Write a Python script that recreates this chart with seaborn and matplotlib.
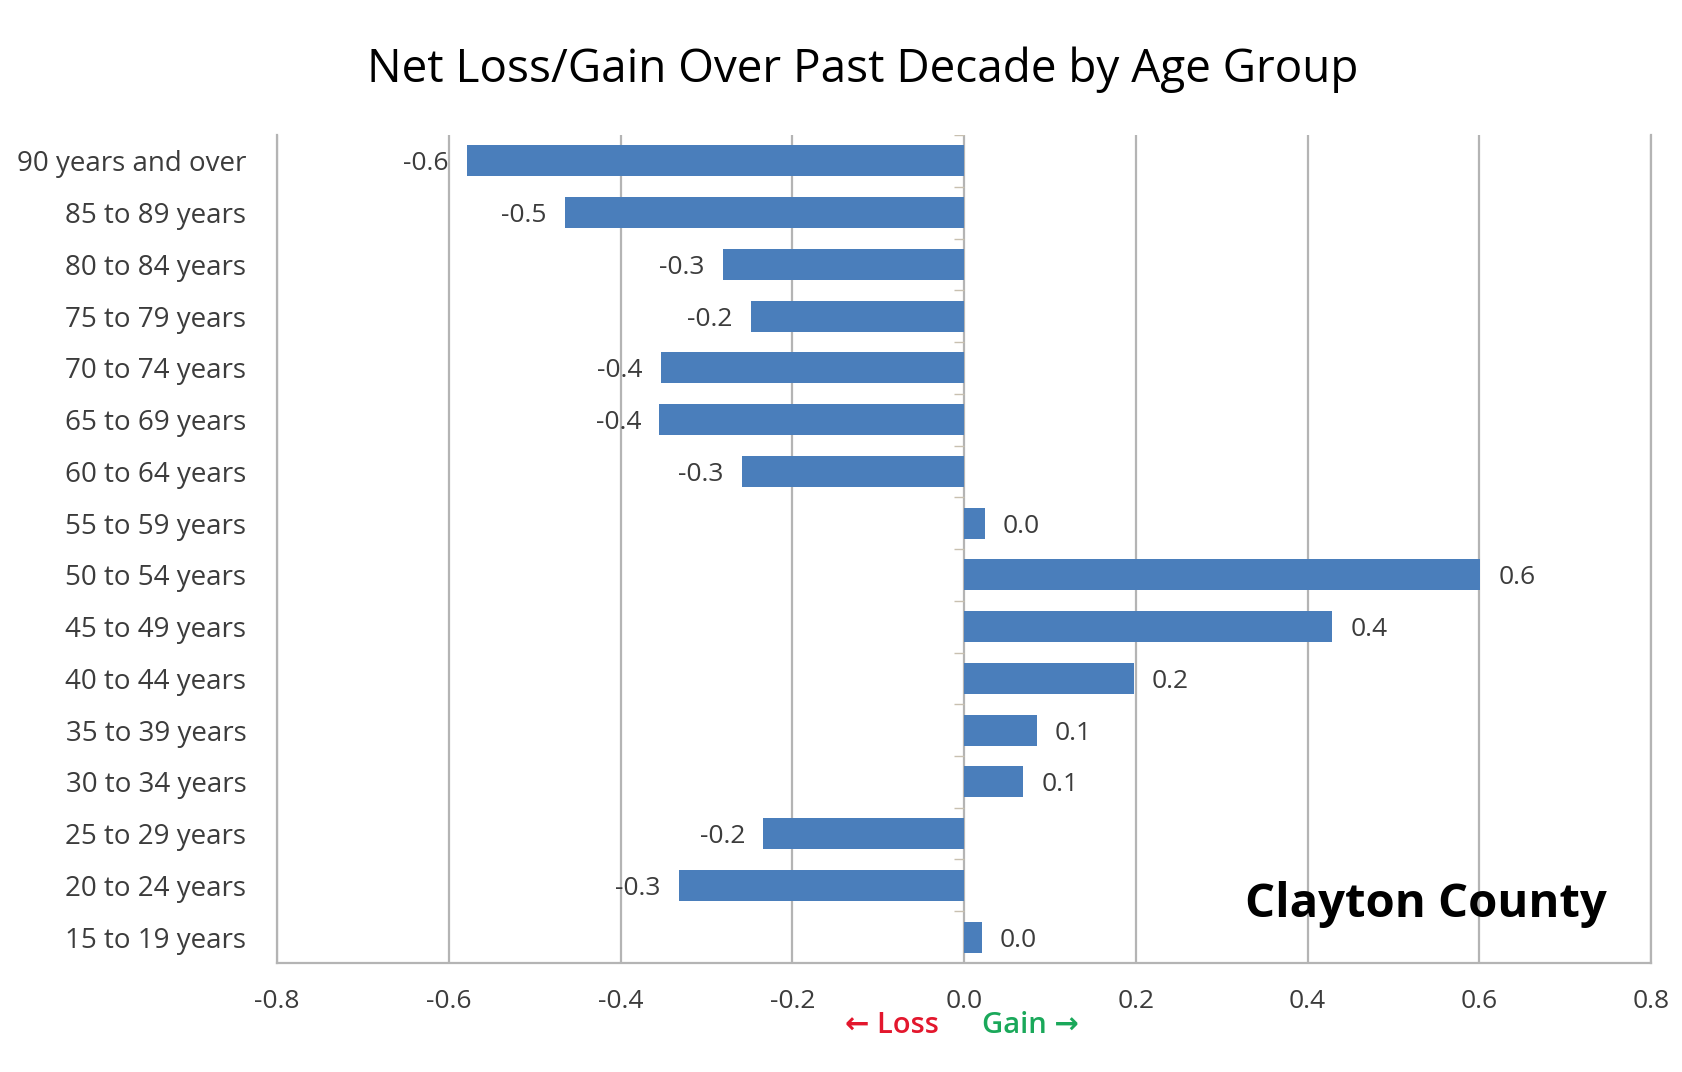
import matplotlib
matplotlib.use("Agg")
import matplotlib.pyplot as plt
import seaborn as sns
import pandas as pd

# Age groups (top to bottom) and net loss/gain over the past decade
age_groups = [
    "90 years and over", "85 to 89 years", "80 to 84 years", "75 to 79 years",
    "70 to 74 years", "65 to 69 years", "60 to 64 years", "55 to 59 years",
    "50 to 54 years", "45 to 49 years", "40 to 44 years", "35 to 39 years",
    "30 to 34 years", "25 to 29 years", "20 to 24 years", "15 to 19 years",
]
net_change = [
    -0.579, -0.465, -0.281, -0.248,
    -0.353, -0.355, -0.259, 0.024,
    0.601, 0.429, 0.198, 0.085,
    0.069, -0.234, -0.332, 0.021,
]
x_ticks = [-0.8, -0.6, -0.4, -0.2, 0.0, 0.2, 0.4, 0.6, 0.8]

df = pd.DataFrame({"age": age_groups, "value": net_change})

sns.set_theme(style="white")
plt.rcParams["font.family"] = ["Open Sans", "DejaVu Sans"]
plt.rcParams["axes.unicode_minus"] = False

BAR = "#4a7ebb"
GRID = "#b4b4b4"
TXT = "#3c3c3c"

fig = plt.figure(figsize=(16.83, 10.72), dpi=100)
ax = fig.add_axes([0.1646, 0.1017, 0.8164, 0.7723])

sns.barplot(data=df, x="value", y="age", orient="h", color=BAR,
            saturation=1, width=0.6, errorbar=None, linewidth=0,
            ax=ax, zorder=3)

ax.set_xlim(-0.8, 0.8)
ax.set_ylim(len(age_groups) - 0.5, -0.5)
ax.set_xticks(x_ticks)
ax.set_xticklabels([f"{t:.1f}" for t in x_ticks], fontsize=19, color=TXT)
ax.tick_params(axis="x", length=7, width=1.2, color=GRID, direction="out", pad=12)
ax.tick_params(axis="y", length=0, pad=22, labelsize=20, labelcolor=TXT)
ax.set_xlabel("")
ax.set_ylabel("")

ax.grid(axis="x", color=GRID, linewidth=1.6, zorder=0)
ax.grid(axis="y", visible=False)
ax.spines["top"].set_visible(False)
for side in ["left", "right", "bottom"]:
    ax.spines[side].set_color(GRID)
    ax.spines[side].set_linewidth(1.6)

# small category tick marks along the zero axis
bounds = [i + 0.5 for i in range(-1, len(age_groups))]
ax.hlines(bounds, -0.012, 0.0, color="#c8c0b0", linewidth=1.0, zorder=2)

value_texts = ax.bar_label(ax.containers[0],
                           labels=[f"{v:.1f}" for v in net_change],
                           padding=13, fontsize=19, color=TXT)
for t in value_texts:
    t.set_va("center_baseline")

fig.text(0.5128, 0.935, "Net Loss/Gain Over Past Decade by Age Group",
         ha="center", va="center", fontsize=33, color="black")

fig.text(0.8473, 0.156, "Clayton County", ha="center", va="center",
         fontsize=34, fontweight="bold", color="black")

fig.text(0.530, 0.043, "\u2190 Loss", ha="center", va="center",
         fontsize=21, fontweight="semibold", color="#e3172d")
fig.text(0.612, 0.043, "Gain \u2192", ha="center", va="center",
         fontsize=21, fontweight="semibold", color="#1aa85a")

fig.savefig("out.png", dpi=100, facecolor="white")
